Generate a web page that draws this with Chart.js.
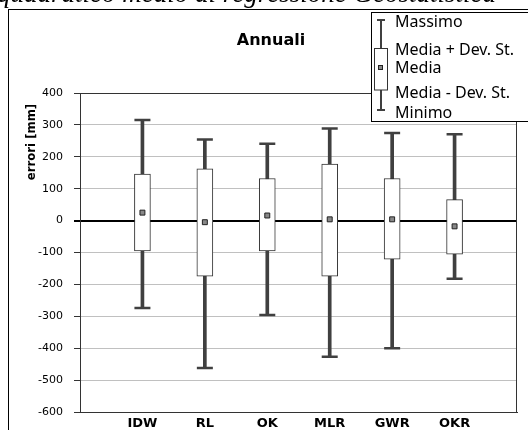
<!DOCTYPE html>
<html>
<head>
<meta charset="utf-8">
<script src="https://cdn.jsdelivr.net/npm/chart.js@4.4.1/dist/chart.umd.min.js"></script>
<style>
  html, body { margin: 0; padding: 0; background: #fff; width: 528px; height: 430px; overflow: hidden; }
  #cv { position: absolute; left: 0; top: 0; }
  #doc { position: absolute; left: -3px; top: -20px; font: italic 27px "Liberation Serif", serif; line-height: 1; white-space: nowrap; color: #000; }
</style>
</head>
<body>
<canvas id="cv" width="528" height="430"></canvas>
<div id="doc">quadratico medio di regressione Geostatistica</div>
<script>
// ---- data ----
const categories   = ['IDW', 'RL', 'OK', 'MLR', 'GWR', 'OKR'];
const massimo      = [315, 254, 241, 289, 275, 271];
const mediaPiuDev  = [146, 162, 132, 177, 132, 66];
const media        = [25, -5, 16, 4, 4, -18];
const mediaMenoDev = [-95, -174, -95, -174, -121, -105];
const minimo       = [-274, -462, -296, -427, -400, -182];
const legendLabels = ['Massimo', 'Media + Dev. St.', 'Media', 'Media - Dev. St.', 'Minimo'];
const chartTitle   = 'Annuali';
const yAxisTitle   = 'errori [mm]';
const yMin = -600, yMax = 400, yStep = 100;

// category slots padded with an empty slot on each side
const pad = a => [null, ...a, null];
const labels = ['', ...categories, ''];

const DARK = '#404040';

const deco = {
  id: 'deco',
  beforeDraw(chart) {
    const ctx = chart.ctx;
    ctx.save();
    // outer frame
    ctx.strokeStyle = '#000';
    ctx.lineWidth = 1;
    ctx.strokeRect(8.5, 9.5, 700, 700);
    // title
    ctx.fillStyle = '#000';
    ctx.font = 'bold 16px "DejaVu Sans"';
    ctx.textAlign = 'center';
    ctx.textBaseline = 'alphabetic';
    ctx.fillText(chartTitle, 271, 45);
    // y axis title
    ctx.translate(35, 142);
    ctx.rotate(-Math.PI / 2);
    ctx.font = 'bold 13px "DejaVu Sans Condensed", "DejaVu Sans"';
    ctx.fillText(yAxisTitle, 0, 0);
    ctx.restore();
  },
  beforeDatasetsDraw(chart) {
    const ctx = chart.ctx, a = chart.chartArea;
    ctx.save();
    ctx.strokeStyle = '#333';
    ctx.lineWidth = 1;
    const x = Math.round(a.right) - 0.5;
    ctx.beginPath();
    ctx.moveTo(x, a.top);
    ctx.lineTo(x, a.bottom);
    ctx.stroke();
    ctx.restore();
  },
  afterDraw(chart) {
    const ctx = chart.ctx;
    ctx.save();
    // legend box
    ctx.fillStyle = '#fff';
    ctx.fillRect(371.5, 12.5, 200, 109);
    ctx.strokeStyle = '#000';
    ctx.lineWidth = 1;
    ctx.strokeRect(371.5, 12.5, 200, 109);
    // legend icon (mini box plot)
    const cx = 381;
    const seg = (x1, y1, x2, y2) => { ctx.beginPath(); ctx.moveTo(x1, y1); ctx.lineTo(x2, y2); ctx.stroke(); };
    ctx.strokeStyle = DARK;
    ctx.lineWidth = 2;
    seg(cx, 20, cx, 48);
    seg(cx, 90, cx, 110);
    seg(377, 20, 385, 20);
    seg(377, 110, 385, 110);
    ctx.fillStyle = '#fff';
    ctx.strokeStyle = '#333';
    ctx.lineWidth = 1;
    ctx.fillRect(374.5, 48.5, 13, 41.5);
    ctx.strokeRect(374.5, 48.5, 13, 41.5);
    ctx.fillStyle = '#888';
    ctx.strokeStyle = '#222';
    ctx.fillRect(378.5, 65.5, 4, 4);
    ctx.strokeRect(378.5, 65.5, 4, 4);
    // legend texts
    ctx.fillStyle = '#000';
    ctx.font = '16px "Noto Sans"';
    ctx.textAlign = 'left';
    ctx.textBaseline = 'alphabetic';
    const ys = [26.5, 55, 73.3, 98.3, 118.3];
    legendLabels.forEach((t, i) => ctx.fillText(t, 395, ys[i]));
    ctx.restore();
  }
};

new Chart(document.getElementById('cv'), {
  data: {
    labels: labels,
    datasets: [
      {
        type: 'bar', label: 'whisker',
        data: pad(minimo.map((v, i) => [v, massimo[i]])),
        backgroundColor: DARK, borderWidth: 0,
        barThickness: 3, grouped: false, order: 4
      },
      {
        type: 'bar', label: 'box',
        data: pad(mediaMenoDev.map((v, i) => [v, mediaPiuDev[i]])),
        backgroundColor: '#fff', borderColor: '#333', borderWidth: 1,
        borderSkipped: false, barThickness: 16, grouped: false, order: 2
      },
      {
        type: 'line', label: 'max cap', data: pad(massimo), showLine: false,
        pointStyle: 'line', pointRadius: 8, pointBorderWidth: 2.5,
        pointBorderColor: DARK, borderColor: DARK, order: 3
      },
      {
        type: 'line', label: 'min cap', data: pad(minimo), showLine: false,
        pointStyle: 'line', pointRadius: 8, pointBorderWidth: 2.5,
        pointBorderColor: DARK, borderColor: DARK, order: 3
      },
      {
        type: 'line', label: 'media', data: pad(media), showLine: false,
        pointStyle: 'rect', pointRadius: 3.5, pointBorderWidth: 1,
        pointBackgroundColor: '#888', pointBorderColor: '#222', order: 1
      }
    ]
  },
  options: {
    responsive: false,
    animation: false,
    devicePixelRatio: 1,
    events: [],
    layout: { padding: { left: 0, right: 11, top: 93, bottom: 0 } },
    plugins: { legend: { display: false }, tooltip: { enabled: false }, title: { display: false } },
    scales: {
      x: {
        type: 'category',
        offset: false,
        afterFit: s => { s.height = 18; },
        grid: { display: false, drawTicks: false },
        border: { display: true, color: '#333', width: 1 },
        ticks: {
          autoSkip: false, maxRotation: 0, padding: 4, color: '#000',
          font: { family: '"DejaVu Sans"', size: 13, weight: 'bold' }
        }
      },
      y: {
        type: 'linear',
        min: yMin, max: yMax,
        afterFit: s => { s.width = 80; },
        grid: {
          color: c => (c.tick && c.tick.value === 0) ? '#000' :
                      (c.tick && (c.tick.value === yMax || c.tick.value === yMin)) ? '#333' : '#c0c0c0',
          lineWidth: c => (c.tick && c.tick.value === 0) ? 2 : 1,
          tickColor: c => (c.tick && c.tick.value === 0) ? '#000' : '#333',
          tickLength: 6
        },
        border: { display: true, color: '#333', width: 1 },
        ticks: {
          stepSize: yStep, padding: 11, color: '#000',
          font: { family: '"DejaVu Sans"', size: 11 }
        }
      }
    }
  },
  plugins: [deco]
});
</script>
</body>
</html>
